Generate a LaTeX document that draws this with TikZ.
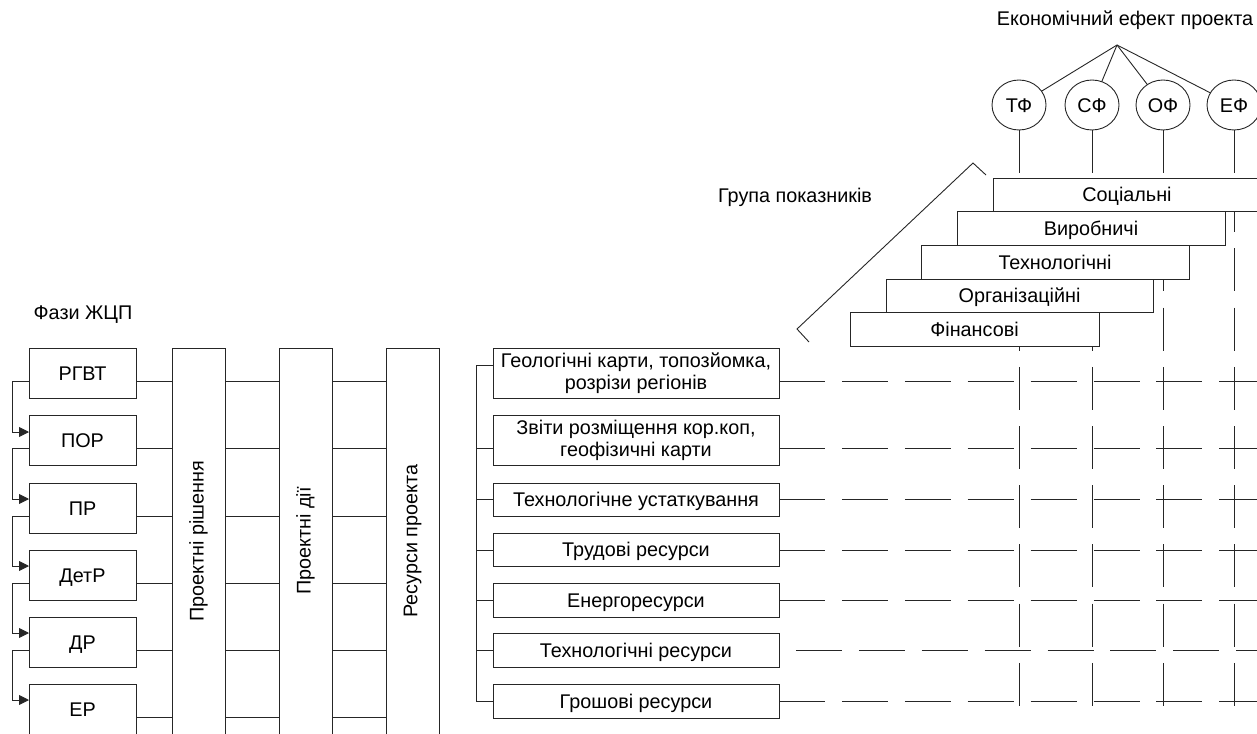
\documentclass[tikz,border=0pt]{standalone}
\usepackage{fontspec}
\setmainfont{Liberation Sans}
\usepackage{graphicx}
\usetikzlibrary{arrows.meta,shapes.geometric,calc}
\begin{document}
\begin{tikzpicture}[x=1pt,y=-1pt,
  every node/.style={font=\fontsize{19.8}{22}\selectfont, inner sep=0pt, outer sep=0pt},
  ln/.style={line width=0.9pt, draw=black!85},
  txt/.style={text height=14.2pt, text depth=0pt},
  box/.style={ln, draw, fill=white, rectangle, anchor=north west},
  circ/.style={ln, draw, fill=white, ellipse, minimum width=54pt, minimum height=50pt, txt},
  vdash/.style={ln, dash pattern=on 43pt off 16.2pt},
  hdash/.style={ln, dash pattern=on 46pt off 16.9pt},
  arr/.style={ln, -{Triangle[length=10pt,width=10pt]}},
]
\path[use as bounding box] (0,0) rectangle (1257,733);
\clip (0,0) rectangle (1257,733);

% ---------- helper coordinates ----------
\coordinate (r1) at (0,381); \coordinate (r2) at (0,448); \coordinate (r3) at (0,516);
\coordinate (r4) at (0,583); \coordinate (r5) at (0,650); \coordinate (r6) at (0,717);
\coordinate (a2) at (0,432); \coordinate (a3) at (0,499); \coordinate (a4) at (0,566);
\coordinate (a5) at (0,633); \coordinate (a6) at (0,700);
\coordinate (lx) at (12,0);
\coordinate (bx) at (476,0);
\coordinate (ex) at (1262,0);
\coordinate (vend) at (0,706);
\coordinate (t1) at (0,365);
\coordinate (s1) at (0,381); \coordinate (s2) at (0,448); \coordinate (s3) at (0,499);
\coordinate (s4) at (0,550); \coordinate (s5) at (0,600); \coordinate (s6) at (0,650);
\coordinate (s7) at (0,701);

% ---------- phases ----------
\node (faz) at (83,315) {Фази ЖЦП};
\node[box, txt, minimum width=107pt, minimum height=50pt] (p1) at (29,348) {РГВТ};
\node[box, txt, minimum width=107pt, minimum height=50pt] (p2) at (29,415) {ПОР};
\node[box, txt, minimum width=107pt, minimum height=50pt] (p3) at (29,483) {ПР};
\node[box, txt, minimum width=107pt, minimum height=50pt] (p4) at (29,550) {ДетР};
\node[box, txt, minimum width=107pt, minimum height=50pt] (p5) at (29,617) {ДР};
\node[box, txt, minimum width=107pt, minimum height=50pt] (p6) at (29,684) {ЕР};

\node[box, minimum width=53pt, minimum height=386pt] (sol) at (172,348) {\rotatebox{90}{Проектні рішення}};
\node[box, minimum width=53pt, minimum height=386pt] (act) at (279,348) {\rotatebox{90}{Проектні дії}};
\node[box, minimum width=53pt, minimum height=386pt] (res) at (386,348) {\rotatebox{90}{Ресурси проекта}};

\foreach \i in {1,...,6} {
  \draw[ln] (p\i.east |- r\i) -- (sol.west |- r\i);
  \draw[ln] (sol.east |- r\i) -- (act.west |- r\i);
  \draw[ln] (act.east |- r\i) -- (res.west |- r\i);
}
\foreach \i/\j in {1/2,2/3,3/4,4/5,5/6} {
  \draw[arr] (p\i.west |- r\i) -- (lx |- r\i) -- (lx |- a\j) -- (p\j.west |- a\j);
}

% ---------- resources ----------
\node[box, align=center, minimum width=286pt, minimum height=50pt] (q1) at (493,348) {Геологічні карти, топозйомка,\\розрізи регіонів};
\node[box, align=center, minimum width=286pt, minimum height=50pt] (q2) at (493,415) {Звіти розміщення кор.коп,\\геофізичні карти};
\node[box, txt, minimum width=286pt, minimum height=33pt] (q3) at (493,483) {Технологічне устаткування};
\node[box, txt, minimum width=286pt, minimum height=33pt] (q4) at (493,533) {Трудові ресурси};
\node[box, txt, minimum width=286pt, minimum height=34pt] (q5) at (493,583) {Енергоресурси};
\node[box, txt, minimum width=286pt, minimum height=34pt] (q6) at (493,633) {Технологічні ресурси};
\node[box, txt, minimum width=286pt, minimum height=34pt] (q7) at (493,684) {Грошові ресурси};

\draw[ln] (q1.west |- t1) -- (bx |- t1) -- (bx |- s7) -- (q7.west |- s7);
\foreach \i in {2,...,6} { \draw[ln] (bx |- s\i) -- (q\i.west |- s\i); }
\foreach \i in {1,2,3,4,5,7} { \draw[hdash] (q\i.east |- s\i) -- (ex |- s\i); }
\draw[hdash, dash phase=46pt] (q6.east |- s6) -- (ex |- s6);

% ---------- effect tree ----------
\node (title) at (1125,20) {Економічний ефект проекта};
\coordinate (apex) at (1117,45);
\node[circ] (tf) at (1019,105) {ТФ};
\node[circ] (sf) at (1092,105) {СФ};
\node[circ] (of) at (1163,105) {ОФ};
\node[circ] (ef) at (1234,105) {ЕФ};
\foreach \c in {tf,sf,of,ef} {
  \draw[ln] (apex) -- (\c);
  \draw[vdash] (\c.south) -- (\c.south |- vend);
}

% ---------- indicator groups ----------
\node[box, txt, minimum width=268pt, minimum height=33pt] (soc) at (993,178) {Соціальні};
\node[box, txt, minimum width=268pt, minimum height=34pt] (vyr) at (957,211) {Виробничі};
\node[box, txt, minimum width=268pt, minimum height=34pt] (tex) at (921,245) {Технологічні};
\node[box, txt, minimum width=267pt, minimum height=33pt] (org) at (886,279) {Організаційні};
\node[box, txt, minimum width=249pt, minimum height=34pt] (fin) at (850,312) {Фінансові};

\node (grp) at (795,197) {Група показників};
\coordinate (g1t) at (986,175);
\coordinate (g1) at (973,163);
\coordinate (g2) at (797,329);
\coordinate (g2t) at (809,342);
\draw[ln] (g1t) -- (g1) -- (g2) -- (g2t);
\end{tikzpicture}
\end{document}
